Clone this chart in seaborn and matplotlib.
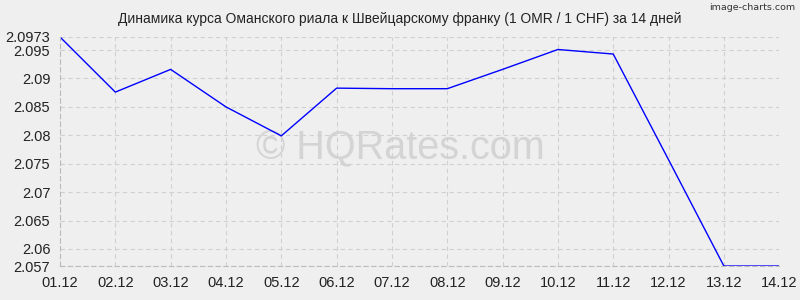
import matplotlib
matplotlib.use("Agg")
import matplotlib.pyplot as plt
import seaborn as sns
import pandas as pd

dates = ["01.12", "02.12", "03.12", "04.12", "05.12", "06.12", "07.12",
         "08.12", "09.12", "10.12", "11.12", "12.12", "13.12", "14.12"]
rates = [2.0973, 2.0876, 2.0916, 2.0850, 2.0799, 2.0883, 2.0882,
         2.0882, 2.0916, 2.0951, 2.0943, 2.0757, 2.0570, 2.0570]
yticks = [2.057, 2.06, 2.065, 2.07, 2.075, 2.08, 2.085, 2.09, 2.095, 2.0973]
ytick_labels = ["2.057", "2.06", "2.065", "2.07", "2.075", "2.08", "2.085", "2.09", "2.095", "2.0973"]
title = "Динамика курса Оманского риала к Швейцарскому франку (1 OMR / 1 CHF) за 14 дней"

sns.set_theme(style="white")
plt.rcParams['font.family'] = ['Liberation Sans', 'DejaVu Sans']

df = pd.DataFrame({"idx": range(len(dates)), "rate": rates})

fig = plt.figure(figsize=(8, 3), dpi=100, facecolor="#efefef")
ax = fig.add_axes([0.075, 0.1133, 0.899, 0.7634])
ax.set_facecolor("#efefef")

sns.lineplot(data=df, x="idx", y="rate", ax=ax, color="#0000ff", linewidth=1.0)

ax.set_xlim(0, len(dates) - 1)
ax.set_ylim(2.057, 2.0973)
ax.set_xticks(range(len(dates)))
ax.set_xticklabels(dates)
ax.set_yticks(yticks)
ax.set_yticklabels(ytick_labels)
ax.set_xlabel("")
ax.set_ylabel("")
ax.tick_params(axis="both", labelsize=10.5, colors="#222222", length=3, pad=4,
               color="#aaaaaa")
ax.grid(True, color="#d0d0d0", linestyle=(0, (4, 3)), linewidth=0.8)
for s in ["top", "right"]:
    ax.spines[s].set_visible(False)
for s in ["left", "bottom"]:
    ax.spines[s].set_color("#bbbbbb")
    ax.spines[s].set_linestyle((0, (4, 3)))
    ax.spines[s].set_linewidth(0.8)

fig.text(0.5, 0.938, title, ha="center", va="center", fontsize=10, color="#222222")
fig.text(0.994, 0.99, "image-charts.com", ha="right", va="top", fontsize=6.8,
         color="#333333", family=["DejaVu Sans", "Liberation Sans"])
ax.text(0.5, 0.505, "© HQRates.com", transform=fig.transFigure, ha="center", va="center",
        fontsize=28.5, color="#d4d4d4", zorder=0)

fig.savefig("out.png", dpi=100, facecolor="#efefef")
